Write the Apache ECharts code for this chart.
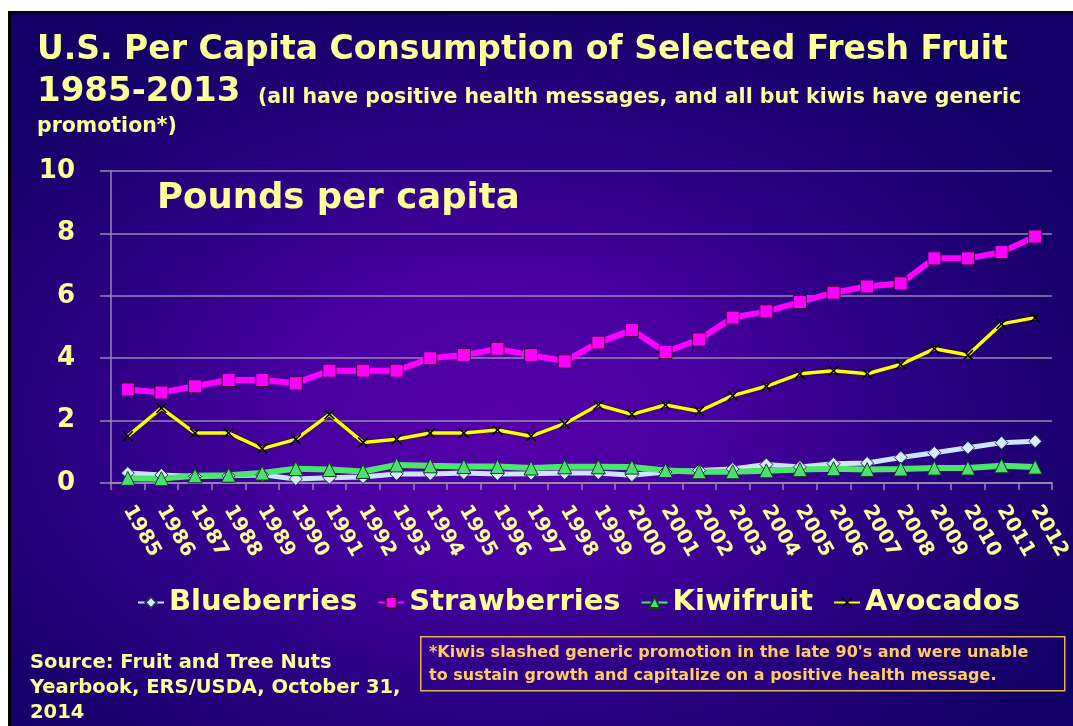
<!DOCTYPE html>
<html>
<head>
<meta charset="utf-8">
<script src="https://cdn.jsdelivr.net/npm/echarts@6/dist/echarts.min.js"></script>
<style>
  html, body { margin: 0; padding: 0; background: #ffffff; }
  #slide {
    position: absolute; left: 8px; top: 11px; width: 1065px; height: 715px;
    box-sizing: border-box; border-left: 3px solid #000; border-top: 3px solid #000;
    background: radial-gradient(ellipse 62% 62% at 46% 57%, #5600aa 0%, #4a00a2 30%, #2c0084 62%, #130066 100%);
  }
  #chart { position: absolute; left: 0; top: 0; width: 1073px; height: 726px; }
</style>
</head>
<body>
<div id="slide"></div>
<div id="chart"></div>
<script>
// Per-capita fresh fruit consumption, pounds per person, 1985-2012
const years = ['1985','1986','1987','1988','1989','1990','1991','1992','1993','1994',
               '1995','1996','1997','1998','1999','2000','2001','2002','2003','2004',
               '2005','2006','2007','2008','2009','2010','2011','2012'];
const blueberries  = [0.32,0.26,0.21,0.23,0.26,0.13,0.17,0.19,0.29,0.29,0.32,0.29,0.30,0.32,
                      0.32,0.25,0.35,0.40,0.45,0.59,0.51,0.62,0.64,0.82,0.97,1.13,1.29,1.34];
const strawberries = [3.0,2.9,3.1,3.3,3.3,3.2,3.6,3.6,3.6,4.0,4.1,4.3,4.1,3.9,
                      4.5,4.9,4.2,4.6,5.3,5.5,5.8,6.1,6.3,6.4,7.2,7.2,7.4,7.9];
const kiwifruit    = [0.15,0.14,0.23,0.25,0.32,0.46,0.43,0.37,0.58,0.55,0.53,0.53,0.48,0.52,
                      0.52,0.51,0.40,0.36,0.36,0.39,0.43,0.46,0.43,0.45,0.48,0.48,0.55,0.51];
const avocados     = [1.5,2.4,1.6,1.6,1.1,1.4,2.2,1.3,1.4,1.6,1.6,1.7,1.5,1.9,
                      2.5,2.2,2.5,2.3,2.8,3.1,3.5,3.6,3.5,3.8,4.3,4.1,5.1,5.3];
const yTicks = { min: 0, max: 10, step: 2 };

const FONT = '"DejaVu Sans", sans-serif';
const YELLOW = '#FFFF99';
const GRID_GREY = '#9488ad';
// thin "X" cross used as the avocado marker
const CROSS = 'path://M0,1L1,0L5,4L9,0L10,1L6,5L10,9L9,10L5,6L1,10L0,9L4,5Z';

const chart = echarts.init(document.getElementById('chart'), null, { renderer: 'canvas' });

function lineSeries(name, data, color, width, symbol, size, fill, border) {
  return {
    name: name, type: 'line', data: data,
    symbol: symbol, symbolSize: size,
    lineStyle: { color: color, width: width },
    itemStyle: { color: fill, borderColor: border, borderWidth: 1 },
    emphasis: { disabled: true },
    animation: false
  };
}

const avocadoSeries = lineSeries('Avocados', avocados, '#FFFF00', 3.5, CROSS, 11, '#000000', '#000000');
avocadoSeries.lineStyle.shadowColor = 'rgba(0,0,0,0.9)';
avocadoSeries.lineStyle.shadowBlur = 2;
avocadoSeries.itemStyle.borderWidth = 0;

const option = {
  backgroundColor: 'transparent',
  animation: false,
  textStyle: { fontFamily: FONT },
  grid: { left: 111, right: 12, top: 171, bottom: 243 },
  xAxis: {
    type: 'category', data: years, boundaryGap: true,
    axisLine: { lineStyle: { color: GRID_GREY, width: 2 } },
    axisTick: { show: true, length: 7, lineStyle: { color: GRID_GREY, width: 1.5 } },
    axisLabel: { interval: 0, rotate: -60, margin: 24, color: YELLOW,
                 fontSize: 20, fontWeight: 'bold', fontFamily: FONT }
  },
  yAxis: {
    type: 'value', min: yTicks.min, max: yTicks.max, interval: yTicks.step,
    axisLine: { show: true, lineStyle: { color: GRID_GREY, width: 1.5 } },
    axisTick: { show: true, length: 11, lineStyle: { color: GRID_GREY, width: 1.5 } },
    splitLine: { lineStyle: { color: GRID_GREY, width: 1.5 } },
    axisLabel: { margin: 36, color: YELLOW, fontSize: 26, fontWeight: 'bold', fontFamily: FONT }
  },
  legend: {
    left: 137, top: 588, padding: 0, itemGap: 20, itemWidth: 26, itemHeight: 14,
    textStyle: { color: YELLOW, fontSize: 29, fontWeight: 'bold', fontFamily: FONT },
    data: ['Blueberries', 'Strawberries', 'Kiwifruit', 'Avocados']
  },
  series: [
    lineSeries('Blueberries', blueberries, '#CCE6FF', 5, 'diamond', 13, '#D6ECFF', '#2a2a55'),
    lineSeries('Strawberries', strawberries, '#FF00FF', 6, 'rect', 13, '#FF00FF', '#3a003a'),
    lineSeries('Kiwifruit', kiwifruit, '#4CE66E', 6, 'triangle', 14, '#4CE070', '#163a1a'),
    avocadoSeries
  ],
  graphic: [
    { type: 'text', left: 37, top: 34, silent: true,
      style: { text: 'U.S. Per Capita Consumption of Selected Fresh Fruit',
               fill: YELLOW, font: 'bold 33px ' + FONT } },
    { type: 'text', left: 37, top: 75, silent: true,
      style: { text: '1985-2013', fill: YELLOW, font: 'bold 34px ' + FONT } },
    { type: 'text', left: 258, top: 87, silent: true,
      style: { text: '(all have positive health messages, and all but kiwis have generic',
               fill: YELLOW, font: 'bold 20.5px ' + FONT } },
    { type: 'text', left: 37, top: 116, silent: true,
      style: { text: 'promotion*)', fill: YELLOW, font: 'bold 20.5px ' + FONT } },
    { type: 'text', left: 157, top: 181, silent: true,
      style: { text: 'Pounds per capita', fill: YELLOW, font: 'bold 35.5px ' + FONT } },
    { type: 'text', left: 30, top: 650, silent: true,
      style: { text: 'Source: Fruit and Tree Nuts\nYearbook, ERS/USDA, October 31,\n2014',
               fill: YELLOW, font: 'bold 19.5px ' + FONT, lineHeight: 25 } },
    { type: 'rect', left: 420, top: 636, silent: true,
      shape: { width: 644, height: 54 },
      style: { fill: 'transparent', stroke: '#E6B450', lineWidth: 1.5 } },
    { type: 'text', left: 429, top: 641, silent: true,
      style: { text: "*Kiwis slashed generic promotion in the late 90's and were unable\nto sustain growth and capitalize on a positive health message.",
               fill: '#FFCC66', font: 'bold 16px ' + FONT, lineHeight: 23 } }
  ]
};
chart.setOption(option);
</script>
</body>
</html>
